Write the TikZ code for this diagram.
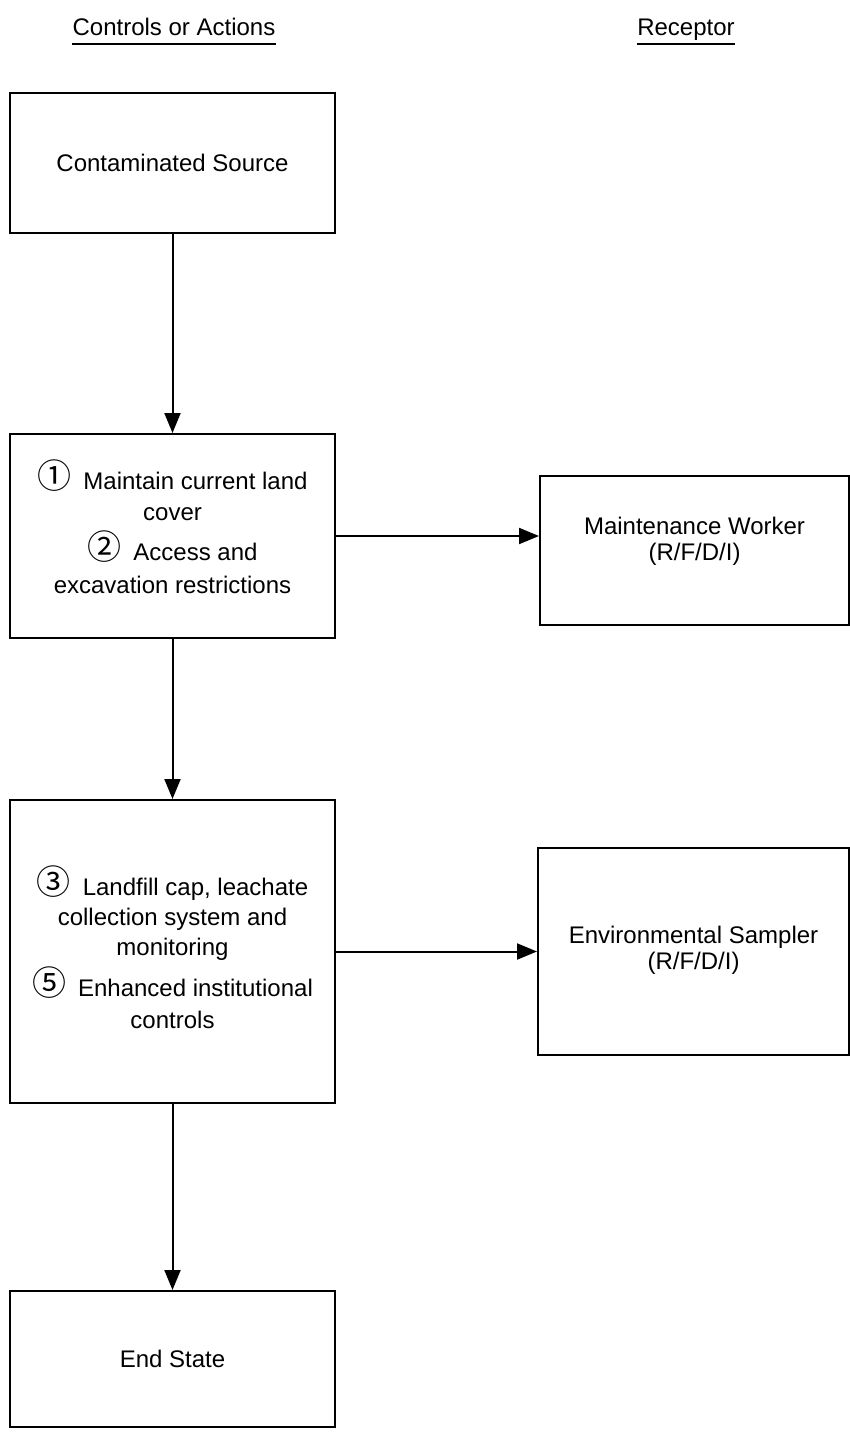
\documentclass[tikz,border=0pt]{standalone}
\usepackage{fontspec}
\setmainfont{Liberation Sans}
\newfontfamily\circfont{Noto Sans CJK SC}
\usetikzlibrary{arrows.meta}
\newcommand{\cnum}[1]{\raisebox{0.5pt}[8pt][0pt]{\circfont\fontsize{17}{17}\selectfont #1}}
\begin{document}
\begin{tikzpicture}[x=0.5pt,y=-0.5pt,
  box/.style={draw,line width=1pt,rectangle,inner sep=0pt},
  lbl/.style={font=\fontsize{12}{15.5}\selectfont,align=center,inner sep=0pt},
  hdr/.style={font=\fontsize{12}{14}\selectfont,inner sep=0pt,anchor=base},
  uline/.style={line width=1pt},
  arr/.style={line width=1pt,-{Triangle[length=10pt,width=8pt]}}]
\useasboundingbox (0,0) rectangle (850,1439);
% headers
\node[hdr] (h1) at (174,36) {Controls or Actions};
\node[hdr] (h2) at (686,36) {Receptor};
\draw[uline] ([yshift=-4pt]h1.base west) -- ([yshift=-4pt]h1.base east);
\draw[uline] ([yshift=-4pt]h2.base west) -- ([yshift=-4pt]h2.base east);
% boxes
\node[box,minimum width=162.5pt,minimum height=70pt] (src) at (172.5,163) {};
\node[box,minimum width=162.5pt,minimum height=102pt] (c1) at (172.5,536) {};
\node[box,minimum width=154.5pt,minimum height=74.5pt] (mw) at (694.5,550.5) {};
\node[box,minimum width=162.5pt,minimum height=151.5pt] (c2) at (172.5,951.5) {};
\node[box,minimum width=155.5pt,minimum height=103.5pt] (es) at (693.5,951.5) {};
\node[box,minimum width=162.5pt,minimum height=68pt] (end) at (172.5,1359) {};
% labels
\node[lbl] (tsrc) at (src) {Contaminated Source};
\node[lbl] (tc1) at (172.5,533) {\cnum{①}\hspace{6pt}Maintain current land\\ cover\\[4.5pt]
  \cnum{②}\hspace{6pt}Access and\\[1pt] excavation restrictions};
\node[lbl,font=\fontsize{12}{13}\selectfont] (tmw) at (694.5,541) {Maintenance Worker\\ (R/F/D/I)};
\node[lbl,font=\fontsize{12}{15}\selectfont] (tc2) at (172.5,953) {\cnum{③}\hspace{6pt}Landfill cap, leachate\\ collection system and\\ monitoring\\[5.5pt]
  \cnum{⑤}\hspace{6pt}Enhanced institutional\\[1pt] controls};
\node[lbl,font=\fontsize{12}{13}\selectfont] (tes) at (693.5,950) {Environmental Sampler\\ (R/F/D/I)};
\node[lbl] (tend) at (end) {End State};
% connectors
\draw[arr] (src.south) -- (c1.north);
\draw[arr] (c1.south) -- (c2.north);
\draw[arr] (c2.south) -- (end.north);
\draw[arr] (c1.east) -- (c1.east -| mw.west);
\draw[arr] (c2.east) -- (c2.east -| es.west);
\end{tikzpicture}
\end{document}
